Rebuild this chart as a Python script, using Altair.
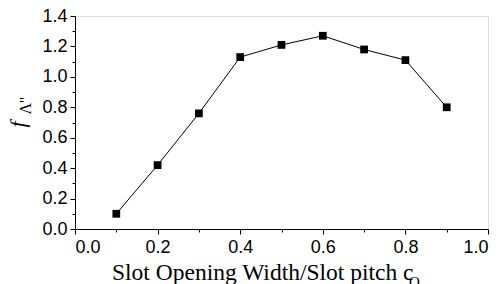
import altair as alt
import pandas as pd

ratio = [0.1, 0.2, 0.3, 0.4, 0.5, 0.6, 0.7, 0.8, 0.9]
f_lambda = [0.10, 0.42, 0.76, 1.13, 1.21, 1.27, 1.18, 1.11, 0.80]
x_major = [0.0, 0.2, 0.4, 0.6, 0.8, 1.0]
x_minor = [0.1, 0.3, 0.5, 0.7, 0.9]
y_major = [0.0, 0.2, 0.4, 0.6, 0.8, 1.0, 1.2, 1.4]
y_minor = [0.1, 0.3, 0.5, 0.7, 0.9, 1.1, 1.3]

df = pd.DataFrame({"x": ratio, "y": f_lambda})

W, H = 413, 213
xs = alt.Scale(domain=[0, 1], nice=False, zero=False)
ys = alt.Scale(domain=[0, 1.4], nice=False, zero=False)

lab = dict(labelFont="Liberation Sans", labelFontSize=18, labelColor="black",
           domainColor="black", tickColor="black", grid=False)

base = alt.Chart(df)

line = base.mark_line(color="black", strokeWidth=1).encode(
    x=alt.X("x:Q", scale=xs, axis=alt.Axis(values=x_major, format=".1f", tickSize=5,
                                            labelPadding=4, orient="bottom", title=None, **lab)),
    y=alt.Y("y:Q", scale=ys, axis=alt.Axis(values=y_major, format=".1f", tickSize=5,
                                            labelPadding=3, orient="left", **lab,
                                            title="Λ''", titleFont="Liberation Serif",
                                            titleFontSize=16, titleFontWeight="normal",
                                            titleColor="black", titleAngle=270,
                                            titleAlign="left", titleBaseline="alphabetic",
                                            titleX=-45, titleY=98)),
)
pts = base.mark_square(color="black", size=60, opacity=1).encode(
    x=alt.X("x:Q", scale=xs, axis=alt.Axis(values=x_minor, labels=False, tickSize=3,
                                            orient="bottom", domain=False, ticks=True,
                                            tickColor="black", grid=False, title=None)),
    y=alt.Y("y:Q", scale=ys, axis=alt.Axis(values=y_minor, labels=False, tickSize=3,
                                            orient="left", domain=False, ticks=True,
                                            tickColor="black", grid=False,
                                            title="f", titleFont="Liberation Serif",
                                            titleFontSize=22, titleFontStyle="italic",
                                            titleFontWeight="normal", titleColor="black",
                                            titleAngle=270, titleAlign="left",
                                            titleBaseline="alphabetic",
                                            titleX=-51, titleY=111)),
)

title_df = pd.DataFrame({"t": ["Slot Opening Width/Slot pitch c"]})
xtitle = alt.Chart(title_df).mark_text(font="Liberation Serif", fontSize=23.5, color="black",
                                       align="left", baseline="alphabetic").encode(
    text="t:N", x=alt.value(37), y=alt.value(264))
sub_df = pd.DataFrame({"t": ["O"]})
xsub = alt.Chart(sub_df).mark_text(font="Liberation Serif", fontSize=15, color="black",
                                   align="left", baseline="alphabetic").encode(
    text="t:N", x=alt.value(334), y=alt.value(271))

chart = alt.layer(line, pts, xtitle, xsub).resolve_axis(
    x="independent", y="independent"
).properties(
    width=W, height=H,
    autosize=alt.AutoSizeParams(type="none"),
    padding={"left": 67, "top": 8, "right": 6, "bottom": 56},
).configure_view(stroke="black", strokeWidth=1).configure(background="white")

chart.save("out.html", embed_options={"renderer": "svg", "actions": False})
